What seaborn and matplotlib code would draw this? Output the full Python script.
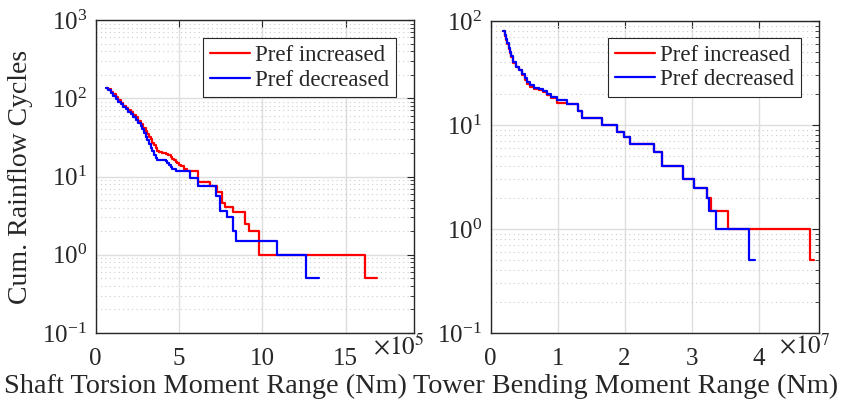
import matplotlib
matplotlib.use("Agg")
import matplotlib.pyplot as plt
import matplotlib.ticker as mticker
import numpy as np
import pandas as pd
import seaborn as sns

# cumulative rainflow counts, step-post; x in units of 1e5 Nm (shaft) / 1e7 Nm (tower)
shaft_inc_x = [0.62, 0.75, 0.9, 1.05, 1.2, 1.35, 1.5, 1.65, 1.8, 1.95, 2.1, 2.25, 2.4, 2.55, 2.7, 2.85,
               3.0, 3.1, 3.2, 3.3, 3.4, 3.5, 3.6, 3.7, 3.8, 4.0, 4.2, 4.35, 4.5, 4.6, 4.7, 4.8, 4.9,
               5.0, 5.1, 5.3, 5.5, 6.16, 6.86, 7.26, 7.56, 7.76, 8.26, 8.96, 9.22, 9.82, 16.15, 16.9]
shaft_inc_y = [135, 130, 122, 113, 104, 96, 88, 80, 75, 70, 66, 61, 57, 52, 47, 42,
               38, 35, 32, 30, 27, 25, 23, 21.5, 20.5, 20, 19.5, 19, 17.8, 17, 16.2, 15.5, 14.8,
               14.2, 13.5, 12.5, 11.6, 8.4, 7.5, 6.4, 4.6, 4.1, 3.5, 2.5, 2.0, 1.0, 0.5, 0.5]
shaft_dec_x = [0.62, 0.75, 0.9, 1.05, 1.2, 1.35, 1.5, 1.65, 1.8, 1.95, 2.1, 2.25, 2.4, 2.55, 2.7,
               2.8, 2.9, 3.0, 3.1, 3.2, 3.3, 3.4, 3.5, 3.6, 3.7, 4.2, 4.3, 4.4, 4.5, 4.6, 4.85,
               5.66, 6.16, 7.2, 7.46, 7.86, 8.26, 8.42, 10.86, 12.6, 13.4]
shaft_dec_y = [135, 128, 118, 108, 98, 91, 84, 78, 72, 67, 63, 58, 53, 48, 44,
               40, 36, 32, 29, 26, 23, 21, 19, 17.5, 16.5, 16, 15, 14, 13.2, 12.5, 11.6,
               9.5, 7.5, 5.6, 3.6, 3.0, 2.0, 1.5, 1.0, 0.5, 0.5]

tower_inc_x = [0.19, 0.21, 0.23, 0.25, 0.27, 0.29, 0.31, 0.34, 0.38, 0.42, 0.47, 0.52, 0.55, 0.59, 0.65,
               0.72, 0.78, 0.84, 0.9, 0.99, 1.14, 1.31, 1.36, 1.66, 1.89, 1.99, 2.08, 2.44, 2.56, 2.87,
               3.03, 3.23, 3.29, 3.54, 4.76, 4.82]
tower_inc_y = [80, 72, 66, 60, 54, 49, 45, 39, 36, 33.6, 30, 27, 25, 23, 22.3,
               21.6, 20.5, 19.4, 18, 16.4, 15.8, 13.6, 11.6, 10, 8.6, 7.7, 6.5, 5.5, 4.0, 3.0,
               2.5, 2.0, 1.5, 1.0, 0.5, 0.5]
tower_dec_x = [0.19, 0.21, 0.23, 0.25, 0.27, 0.29, 0.31, 0.34, 0.38, 0.42, 0.47, 0.52, 0.55, 0.59, 0.65,
               0.72, 0.78, 0.84, 0.9, 0.99, 1.14, 1.31, 1.36, 1.66, 1.89, 1.99, 2.08, 2.44, 2.56, 2.87,
               3.03, 3.23, 3.26, 3.36, 3.86, 3.94]
tower_dec_y = [80, 73, 67, 61, 55, 50, 46, 40, 36, 34, 31, 28, 26, 24, 22.8,
               22, 21, 19.8, 18.5, 17.4, 15.8, 13.6, 11.6, 10, 8.6, 7.7, 6.5, 5.5, 4.0, 3.0,
               2.5, 2.0, 1.5, 1.0, 0.5, 0.5]

labels = ["Pref increased", "Pref decreased"]
colors = ["#ff0000", "#0000ff"]

sns.set_theme(style="white")
plt.rcParams["font.family"] = ["Liberation Serif", "DejaVu Serif"]
plt.rcParams["mathtext.fontset"] = "stix"
plt.rcParams["axes.edgecolor"] = "#262626"
plt.rcParams["axes.linewidth"] = 1.0


def make_df(inc_x, inc_y, dec_x, dec_y, scale):
    a = pd.DataFrame({"x": np.array(inc_x) * scale, "y": inc_y, "case": labels[0]})
    b = pd.DataFrame({"x": np.array(dec_x) * scale, "y": dec_y, "case": labels[1]})
    return pd.concat([a, b], ignore_index=True)


def draw_panel(ax, df, scale, exp, xmax, xticks, ylim, xlabel, label_x, exp_x, leg_anchor):
    sns.lineplot(data=df, x="x", y="y", hue="case", palette=colors, estimator=None, sort=False,
                 drawstyle="steps-post", linewidth=1.6, ax=ax)
    ax.set_yscale("log")
    ax.set_ylim(*ylim)
    ax.set_xlim(0, xmax * scale)
    ax.set_xticks(np.array(xticks) * scale)
    ax.xaxis.set_major_formatter(mticker.FuncFormatter(lambda v, p: f"{v / scale:g}"))
    ax.yaxis.set_major_locator(mticker.LogLocator(base=10, numticks=10))
    ax.yaxis.set_minor_locator(mticker.LogLocator(base=10, subs=np.arange(2, 10), numticks=10))
    ax.yaxis.set_minor_formatter(mticker.NullFormatter())
    ax.grid(True, which="major", color="#dedede", linewidth=1.0, linestyle="-")
    ax.grid(True, which="minor", axis="y", color="#cccccc", linewidth=0.8, linestyle=(0, (1, 3)))
    ax.set_axisbelow(True)
    ax.tick_params(which="both", direction="in", top=True, right=True, labelsize=18, colors="#262626",
                   labelcolor="#262626")
    ax.tick_params(which="major", length=5, width=0.8, pad=6)
    ax.tick_params(axis="x", which="major", pad=11)
    ax.tick_params(which="minor", length=3, width=0.6)
    ax.set_xlabel(xlabel, fontsize=20.3, color="#262626")
    ax.xaxis.set_label_coords(label_x, -0.17)
    ax.xaxis.label.set_va("center")
    ax.text(exp_x, -0.068, r"$\times10^{%d}$" % exp, transform=ax.transAxes, ha="left", va="baseline",
            fontsize=18, color="#262626")
    handles, _ = ax.get_legend_handles_labels()
    leg = ax.legend(handles=handles, labels=labels, loc="upper right", bbox_to_anchor=leg_anchor,
                    borderaxespad=0, fontsize=16.5, frameon=True, fancybox=False, edgecolor="#262626",
                    framealpha=1, handlelength=1.75, handletextpad=0.2, labelspacing=0.15,
                    borderpad=0.3)
    leg.get_frame().set_linewidth(0.8)


fig = plt.figure(figsize=(8.43, 4.08), dpi=100)
ax1 = fig.add_axes([0.1134, 0.1838, 0.3777, 0.767])
ax2 = fig.add_axes([0.582, 0.1838, 0.3894, 0.765])

shaft_df = make_df(shaft_inc_x, shaft_inc_y, shaft_dec_x, shaft_dec_y, 1e5)
tower_df = make_df(tower_inc_x, tower_inc_y, tower_dec_x, tower_dec_y, 1e7)

draw_panel(ax1, shaft_df, 1e5, 5, 19.1, [0, 5, 10, 15], (0.1, 1000),
           "Shaft Torsion Moment Range (Nm)", 0.344, 0.871, (0.943, 0.942))
draw_panel(ax2, tower_df, 1e7, 7, 4.9, [0, 1, 2, 3, 4], (0.1, 100),
           "Tower Bending Moment Range (Nm)", 0.412, 0.878, (0.945, 0.946))
ax1.set_ylabel("Cum. Rainflow Cycles", fontsize=20, color="#262626")
ax1.yaxis.set_label_coords(-0.197, 0.5)
ax2.set_ylabel("")

fig.savefig("out.png", dpi=100)
